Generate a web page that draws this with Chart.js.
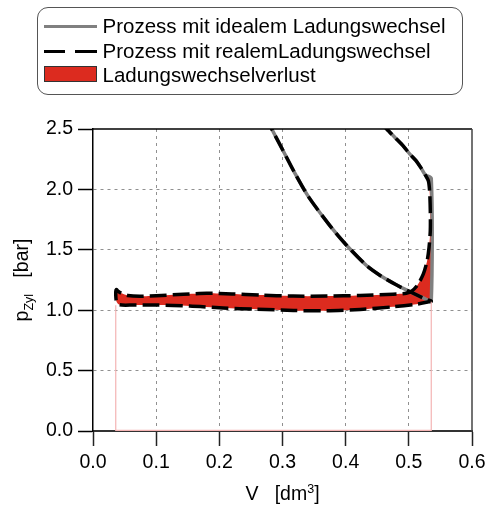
<!DOCTYPE html>
<html>
<head>
<meta charset="utf-8">
<script src="https://cdn.jsdelivr.net/npm/chart.js@4.4.0/dist/chart.umd.min.js"></script>
<style>
  html, body { margin: 0; padding: 0; background: #fff; }
  #wrap { position: relative; width: 486px; height: 507px; overflow: hidden; }
  #chart { position: absolute; left: 0; top: 0; }
  .lgbox { position: absolute; left: 37px; top: 7px; width: 424px; height: 86px;
    border: 1.3px solid #555; border-radius: 11px; }
  .lgtext { position: absolute; left: 102.5px; line-height: 24px; white-space: nowrap;
    font-family: "Liberation Sans", Arial, sans-serif; font-size: 20.5px; color: #000; }
  .sw { position: absolute; }
</style>
</head>
<body>
<div id="wrap">
  <canvas id="chart" width="486" height="507"></canvas>
  <div class="lgbox"></div>
  <div class="sw" style="left:44px;top:25px;width:53px;height:3px;background:#808080"></div>
  <div class="lgtext" style="top:14px">Prozess mit idealem Ladungswechsel</div>
  <div class="sw" style="left:44px;top:49.5px;width:21px;height:3.3px;background:#000"></div>
  <div class="sw" style="left:75px;top:49.5px;width:22px;height:3.3px;background:#000"></div>
  <div class="lgtext" style="top:39px">Prozess mit realemLadungswechsel</div>
  <div class="sw" style="left:44px;top:66px;width:51px;height:14px;background:#dc2b1f;border:1px solid #333"></div>
  <div class="lgtext" style="top:63px">Ladungswechselverlust</div>
</div>
<script>
// axis ticks
const xTicks = [0, 0.1, 0.2, 0.3, 0.4, 0.5, 0.6];
const yTicks = [0, 0.5, 1.0, 1.5, 2.0, 2.5];

// expansion (ideal and real coincide)
const expV = [0.455, 0.465, 0.478, 0.491, 0.502, 0.511, 0.519, 0.526];
const expP = [2.56, 2.50, 2.43, 2.36, 2.29, 2.24, 2.18, 2.12];
// real process: early exhaust opening / blowdown
const blowV = [0.531, 0.533, 0.534, 0.534, 0.532, 0.529, 0.523, 0.514, 0.505, 0.496];
const blowP = [2.07, 1.98, 1.82, 1.66, 1.52, 1.41, 1.30, 1.21, 1.16, 1.14];
// real exhaust stroke (BDC -> TDC)
const exhV = [0.475, 0.423, 0.370, 0.317, 0.264, 0.220, 0.180, 0.143, 0.100, 0.074, 0.055, 0.045, 0.039, 0.037];
const exhP = [1.133, 1.122, 1.117, 1.117, 1.125, 1.135, 1.140, 1.132, 1.120, 1.115, 1.122, 1.140, 1.160, 1.172];
// real intake stroke (TDC -> BDC)
const intV = [0.036, 0.037, 0.042, 0.064, 0.100, 0.153, 0.206, 0.259, 0.317, 0.370, 0.423, 0.475, 0.512, 0.530, 0.5355];
const intP = [1.150, 1.075, 1.045, 1.043, 1.043, 1.035, 1.018, 1.008, 0.998, 0.995, 1.006, 1.028, 1.050, 1.068, 1.075];
// compression (BDC -> top)
const compV = [0.528, 0.505, 0.480, 0.454, 0.433, 0.401, 0.375, 0.341, 0.320, 0.301, 0.283, 0.274];
const compP = [1.088, 1.145, 1.210, 1.290, 1.370, 1.540, 1.700, 1.940, 2.130, 2.320, 2.500, 2.600];
// ideal blowdown at BDC
const idealV = [0.5355, 0.5355];
const idealP = [2.09, 1.075];
// thin outline below the loop
const outlineV = [0.036, 0.036, 0.5355, 0.5355];
const outlineP = [1.04, 0.005, 0.005, 1.07];

const pts = (v, p) => v.map((x, i) => ({ x: x, y: p[i] }));

const realLine = [].concat(pts(expV, expP), pts(blowV, blowP), pts(exhV, exhP), pts(intV, intP), pts(compV, compP));
const idealLine = [].concat(pts(expV, expP), pts(idealV, idealP), pts(compV, compP));
const lossArea = [].concat(pts(expV.slice(-1), expP.slice(-1)), pts(blowV, blowP), pts(exhV, exhP),
  pts(intV, intP), pts(idealV.slice().reverse(), idealP.slice().reverse()).slice(1));

const FONT = '"Liberation Sans", Arial, sans-serif';

const extras = {
  id: 'extras',
  afterDraw(chart) {
    const ctx = chart.ctx;
    const a = chart.chartArea;
    ctx.save();
    // top and right frame
    ctx.lineWidth = 1.5;
    ctx.strokeStyle = '#000';
    ctx.beginPath(); ctx.moveTo(a.left, a.top); ctx.lineTo(a.right, a.top); ctx.stroke();
    ctx.strokeStyle = '#444';
    ctx.beginPath(); ctx.moveTo(a.right, a.top); ctx.lineTo(a.right, a.bottom); ctx.stroke();

    const big = '19.5px ' + FONT, small = '12.5px ' + FONT;
    ctx.fillStyle = '#000';
    ctx.textBaseline = 'alphabetic';

    // x title with superscript
    ctx.font = big;
    const xa = ctx.measureText('V   [dm').width, xc = ctx.measureText(']').width;
    ctx.font = small;
    const xb = ctx.measureText('3').width;
    let x = (a.left + a.right) / 2 - (xa + xb + xc) / 2;
    const by = 500;
    ctx.font = big; ctx.fillText('V   [dm', x, by); x += xa;
    ctx.font = small; ctx.fillText('3', x, by - 7); x += xb;
    ctx.font = big; ctx.fillText(']', x, by);

    // y title with subscript
    ctx.font = big;
    const w1 = ctx.measureText('p').width, w3 = ctx.measureText('   [bar]').width;
    ctx.font = small;
    const w2 = ctx.measureText('Zyl').width;
    ctx.translate(28, (a.top + a.bottom) / 2);
    ctx.rotate(-Math.PI / 2);
    x = -(w1 + w2 + w3) / 2;
    ctx.font = big; ctx.fillText('p', x, 0); x += w1;
    ctx.font = small; ctx.fillText('Zyl', x, 5); x += w2;
    ctx.font = big; ctx.fillText('   [bar]', x, 0);
    ctx.restore();
  }
};

const gridColor = last => c => (c.index === 0 || c.index === last) ? 'rgba(0,0,0,0)' : '#909090';

new Chart(document.getElementById('chart'), {
  type: 'scatter',
  data: {
    datasets: [
      { label: 'Prozess mit realemLadungswechsel', data: realLine, showLine: true, order: 1,
        borderColor: '#000', borderWidth: 3.5, borderDash: [17, 6], tension: 0.25, fill: false, clip: 0 },
      { label: 'Prozess mit idealem Ladungswechsel', data: idealLine, showLine: true, order: 2,
        borderColor: '#808080', borderWidth: 3.5, tension: 0.25, fill: false, clip: 0 },
      { label: 'Ladungswechselverlust', data: lossArea, showLine: true, order: 3,
        borderColor: 'rgba(0,0,0,0)', borderWidth: 0, backgroundColor: '#dc2b1f', tension: 0.25, fill: 'shape', clip: 0 },
      { label: 'outline', data: pts(outlineV, outlineP), showLine: true, order: 0,
        borderColor: '#f4b4b4', borderWidth: 1.2, tension: 0, fill: false, clip: 3 }
    ]
  },
  options: {
    responsive: false,
    animation: false,
    devicePixelRatio: 1,
    layout: { padding: { left: 0, top: 129, right: 14, bottom: 0 } },
    elements: { point: { radius: 0, hoverRadius: 0 } },
    plugins: { legend: { display: false }, tooltip: { enabled: false } },
    scales: {
      x: {
        type: 'linear', min: 0, max: 0.6,
        afterBuildTicks: s => { s.ticks = xTicks.map(v => ({ value: v })); },
        afterFit: s => { s.height = 76; s.paddingLeft = 0; s.paddingRight = 0; },
        ticks: { color: '#000', font: { family: FONT, size: 19.5 }, padding: 5, maxRotation: 0, autoSkip: false,
          callback: v => v.toFixed(1) },
        grid: { color: gridColor(6), lineWidth: 1, tickLength: 15, tickColor: '#222', tickWidth: 1.5, tickBorderDash: [] },
        border: { color: '#333', width: 2, dash: [3, 4] },
        title: { display: false }
      },
      y: {
        type: 'linear', min: 0, max: 2.5,
        afterBuildTicks: s => { s.ticks = yTicks.map(v => ({ value: v })); },
        afterFit: s => { s.width = 93; s.paddingTop = 0; s.paddingBottom = 0; },
        ticks: { color: '#000', font: { family: FONT, size: 19.5 }, padding: 5, autoSkip: false,
          callback: v => v.toFixed(1) },
        grid: { color: gridColor(5), lineWidth: 1, tickLength: 15, tickColor: '#000', tickWidth: 1.5, tickBorderDash: [] },
        border: { color: '#000', width: 1.5, dash: [3, 4] }
      }
    }
  },
  plugins: [extras]
});
</script>
</body>
</html>
